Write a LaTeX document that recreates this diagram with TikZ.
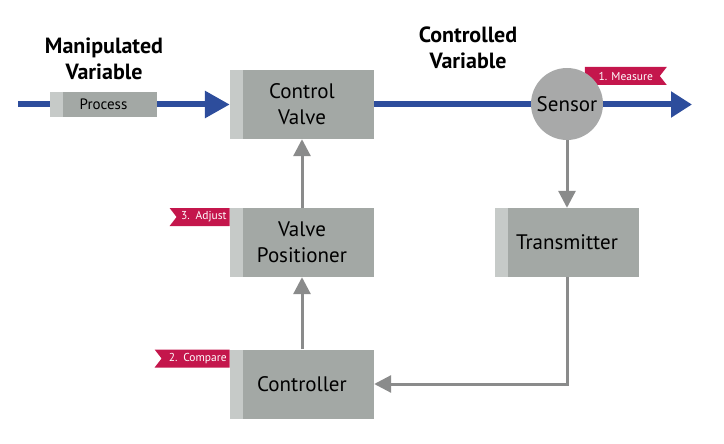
\documentclass[tikz,border=0pt]{standalone}
\usepackage{fontspec}
\setmainfont{PT Sans}
\usetikzlibrary{arrows.meta,positioning,backgrounds}
\definecolor{boxgray}{HTML}{A3A8A5}
\definecolor{striplight}{HTML}{C6CAC8}
\definecolor{flowblue}{HTML}{2D4D9C}
\definecolor{flagred}{HTML}{C4164C}
\definecolor{signalgray}{HTML}{8A8B8B}
\definecolor{sensorgray}{HTML}{A8A9A9}
\tikzset{
  block/.style={fill=boxgray, minimum width=144pt, minimum height=69pt, inner sep=0pt,
    align=center, font=\fontsize{21}{26}\selectfont,
    path picture={\fill[striplight] (path picture bounding box.north west)
      rectangle ([xshift=13pt]path picture bounding box.south west);}},
  procbox/.style={fill=boxgray, minimum width=107pt, minimum height=25pt, inner sep=0pt,
    font=\fontsize{15}{17}\selectfont,
    path picture={\fill[striplight] (path picture bounding box.north west)
      rectangle ([xshift=13pt]path picture bounding box.south west);}},
  sensorball/.style={circle, fill=sensorgray, minimum size=72pt, inner sep=0pt,
    font=\fontsize{21}{26}\selectfont},
  heading/.style={align=center, font=\bfseries\fontsize{22}{26}\selectfont},
  flagin/.style={minimum height=18pt, inner xsep=3pt, inner ysep=0pt, align=right,
    text=white, font=\fontsize{11.5}{13}\selectfont,
    path picture={\fill[flagred] (path picture bounding box.north west)
      -- (path picture bounding box.north east) -- (path picture bounding box.south east)
      -- (path picture bounding box.south west) -- ([xshift=7pt]path picture bounding box.west)
      -- cycle;}},
  flagout/.style={minimum height=18pt, minimum width=82pt, inner sep=0pt,
    text=white, font=\fontsize{11.5}{13}\selectfont,
    path picture={\fill[flagred] (path picture bounding box.north west)
      -- (path picture bounding box.north east) -- ([xshift=-7pt]path picture bounding box.east)
      -- (path picture bounding box.south east) -- (path picture bounding box.south west)
      -- cycle;}},
  flow/.style={flowblue, line width=6pt},
  signal/.style={signalgray, line width=3pt, -{Triangle[length=17pt,width=17pt]}}
}
\begin{document}
\begin{tikzpicture}[x=1pt,y=-1pt]
\useasboundingbox (0,0) rectangle (724,444);
% blocks
\node[block] (valve) at (302,104.5) {Control\\Valve};
\node[block] (positioner) at (302,242.5) {Valve\\Positioner};
\node[block] (controller) at (302,384) {Controller};
\node[block] (transmitter) at (567,242.5) {Transmitter};
\node[sensorball] (sensor) at (567,104) {Sensor};
\node[procbox] (process) at (103.5,104.5) {Process};
% headings
\node[heading] (manipulated) at (104,59) {Manipulated\\Variable};
\node[heading] (controlled) at (468,48) {Controlled\\Variable};
% step flags
\node[flagin, text width=54pt, anchor=north east] (adjust) at (positioner.north west) {3. Adjust};
\node[flagin, text width=69pt, anchor=north east] (compare) at (controller.north west) {2. Compare};
% process flow
\begin{pgfonlayer}{background}
\coordinate (inlet) at (18,104.5);
\coordinate (outlet) at (692,104.5);
\draw[flow, -{Triangle[length=25pt,width=26pt]}] (inlet) -- (valve.west);
\draw[flow, -{Triangle[length=21pt,width=25pt]}] (valve.east) -- (outlet);
\node[flagout, anchor=east] (measure) at (667,76) {1. Measure};
\end{pgfonlayer}
% signals
\draw[signal] (sensor.south) -- (transmitter.north);
\draw[signal] (transmitter.south) |- (controller.east);
\draw[signal] (controller.north) -- (positioner.south);
\draw[signal] (positioner.north) -- (valve.south);
\end{tikzpicture}
\end{document}
